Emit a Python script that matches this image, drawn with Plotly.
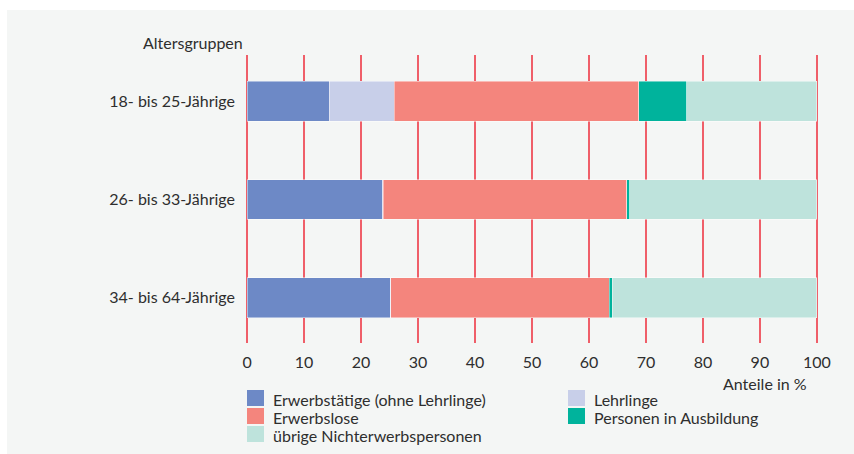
import plotly.graph_objects as go

categories = ["18- bis 25-Jährige", "26- bis 33-Jährige", "34- bis 64-Jährige"]
series_names = ["Erwerbstätige (ohne Lehrlinge)", "Lehrlinge", "Erwerbslose",
                "Personen in Ausbildung", "übrige Nichterwerbspersonen"]
erwerbstaetige = [14.4, 23.7, 25.2]
lehrlinge = [11.4, 0.2, 0.0]
erwerbslose = [42.9, 42.7, 38.4]
ausbildung = [8.5, 0.6, 0.5]
uebrige = [22.8, 32.8, 35.9]
series_values = [erwerbstaetige, lehrlinge, erwerbslose, ausbildung, uebrige]
colors = ["#6d89c6", "#c8cfe9", "#f4857d", "#00b39c", "#bee3dc"]
x_ticks = [0, 10, 20, 30, 40, 50, 60, 70, 80, 90, 100]

W, H = 854, 454
L, R, T, B = 246, 36, 55, 111
PW, PH = W - L - R, H - T - B
FONT = "Lato"
FS = 16
TXT = "#2e2e2e"

def px(x):
    return (x - L) / PW

def py(y):
    return (H - B - y) / PH

fig = go.Figure()
for name, vals, col in zip(series_names, series_values, colors):
    fig.add_trace(go.Bar(
        y=list(range(len(categories))), x=vals, name=name, orientation="h",
        marker=dict(color=col, line=dict(color="rgba(255,255,255,0.55)", width=0.8)),
        width=0.405, showlegend=False,
    ))

shapes = [dict(type="rect", xref="paper", yref="paper", layer="below",
               x0=px(7), x1=px(W + 2), y0=py(H + 2), y1=py(10),
               fillcolor="#f4f6f5", line=dict(width=0))]
annotations = [
    dict(text="Altersgruppen", xref="paper", yref="paper", x=px(245), y=py(43),
         xanchor="right", yanchor="middle", showarrow=False,
         font=dict(family=FONT, size=FS, color=TXT)),
    dict(text="Anteile in %", xref="paper", yref="paper", x=px(809), y=py(383),
         xanchor="right", yanchor="middle", showarrow=False,
         font=dict(family=FONT, size=FS, color=TXT)),
]

legend_pos = [(247, 398), (568, 398), (247, 416), (568, 416), (247, 434)]
for name, col, (lx, ly) in zip(series_names, colors, legend_pos):
    shapes.append(dict(type="rect", xref="paper", yref="paper",
                       x0=px(lx), x1=px(lx + 17), y0=py(ly + 8), y1=py(ly - 8),
                       fillcolor=col, line=dict(width=0)))
    annotations.append(dict(text=name, xref="paper", yref="paper",
                            x=px(lx + 24), y=py(ly + 1), xanchor="left", yanchor="middle",
                            showarrow=False, font=dict(family=FONT, size=FS, color=TXT)))

fig.update_layout(
    width=W, height=H,
    margin=dict(l=L, r=R, t=T, b=B),
    barmode="stack",
    paper_bgcolor="white",
    plot_bgcolor="#f4f6f5",
    font=dict(family=FONT, size=FS, color=TXT),
    shapes=shapes,
    annotations=annotations,
    xaxis=dict(range=[-0.2, 100.2], tickvals=x_ticks, ticktext=[str(v) for v in x_ticks],
               showgrid=True, gridcolor="#ef5f69", gridwidth=1.6,
               zeroline=False, showline=False, ticks="", ticklabelstandoff=8,
               tickfont=dict(family=FONT, size=FS, color=TXT)),
    yaxis=dict(range=[2.46, -0.47], tickvals=list(range(len(categories))), ticktext=categories,
               showgrid=False, zeroline=False, showline=False, ticks="",
               ticklabelstandoff=10,
               tickfont=dict(family=FONT, size=FS, color=TXT)),
)

fig.write_html("out.html")
